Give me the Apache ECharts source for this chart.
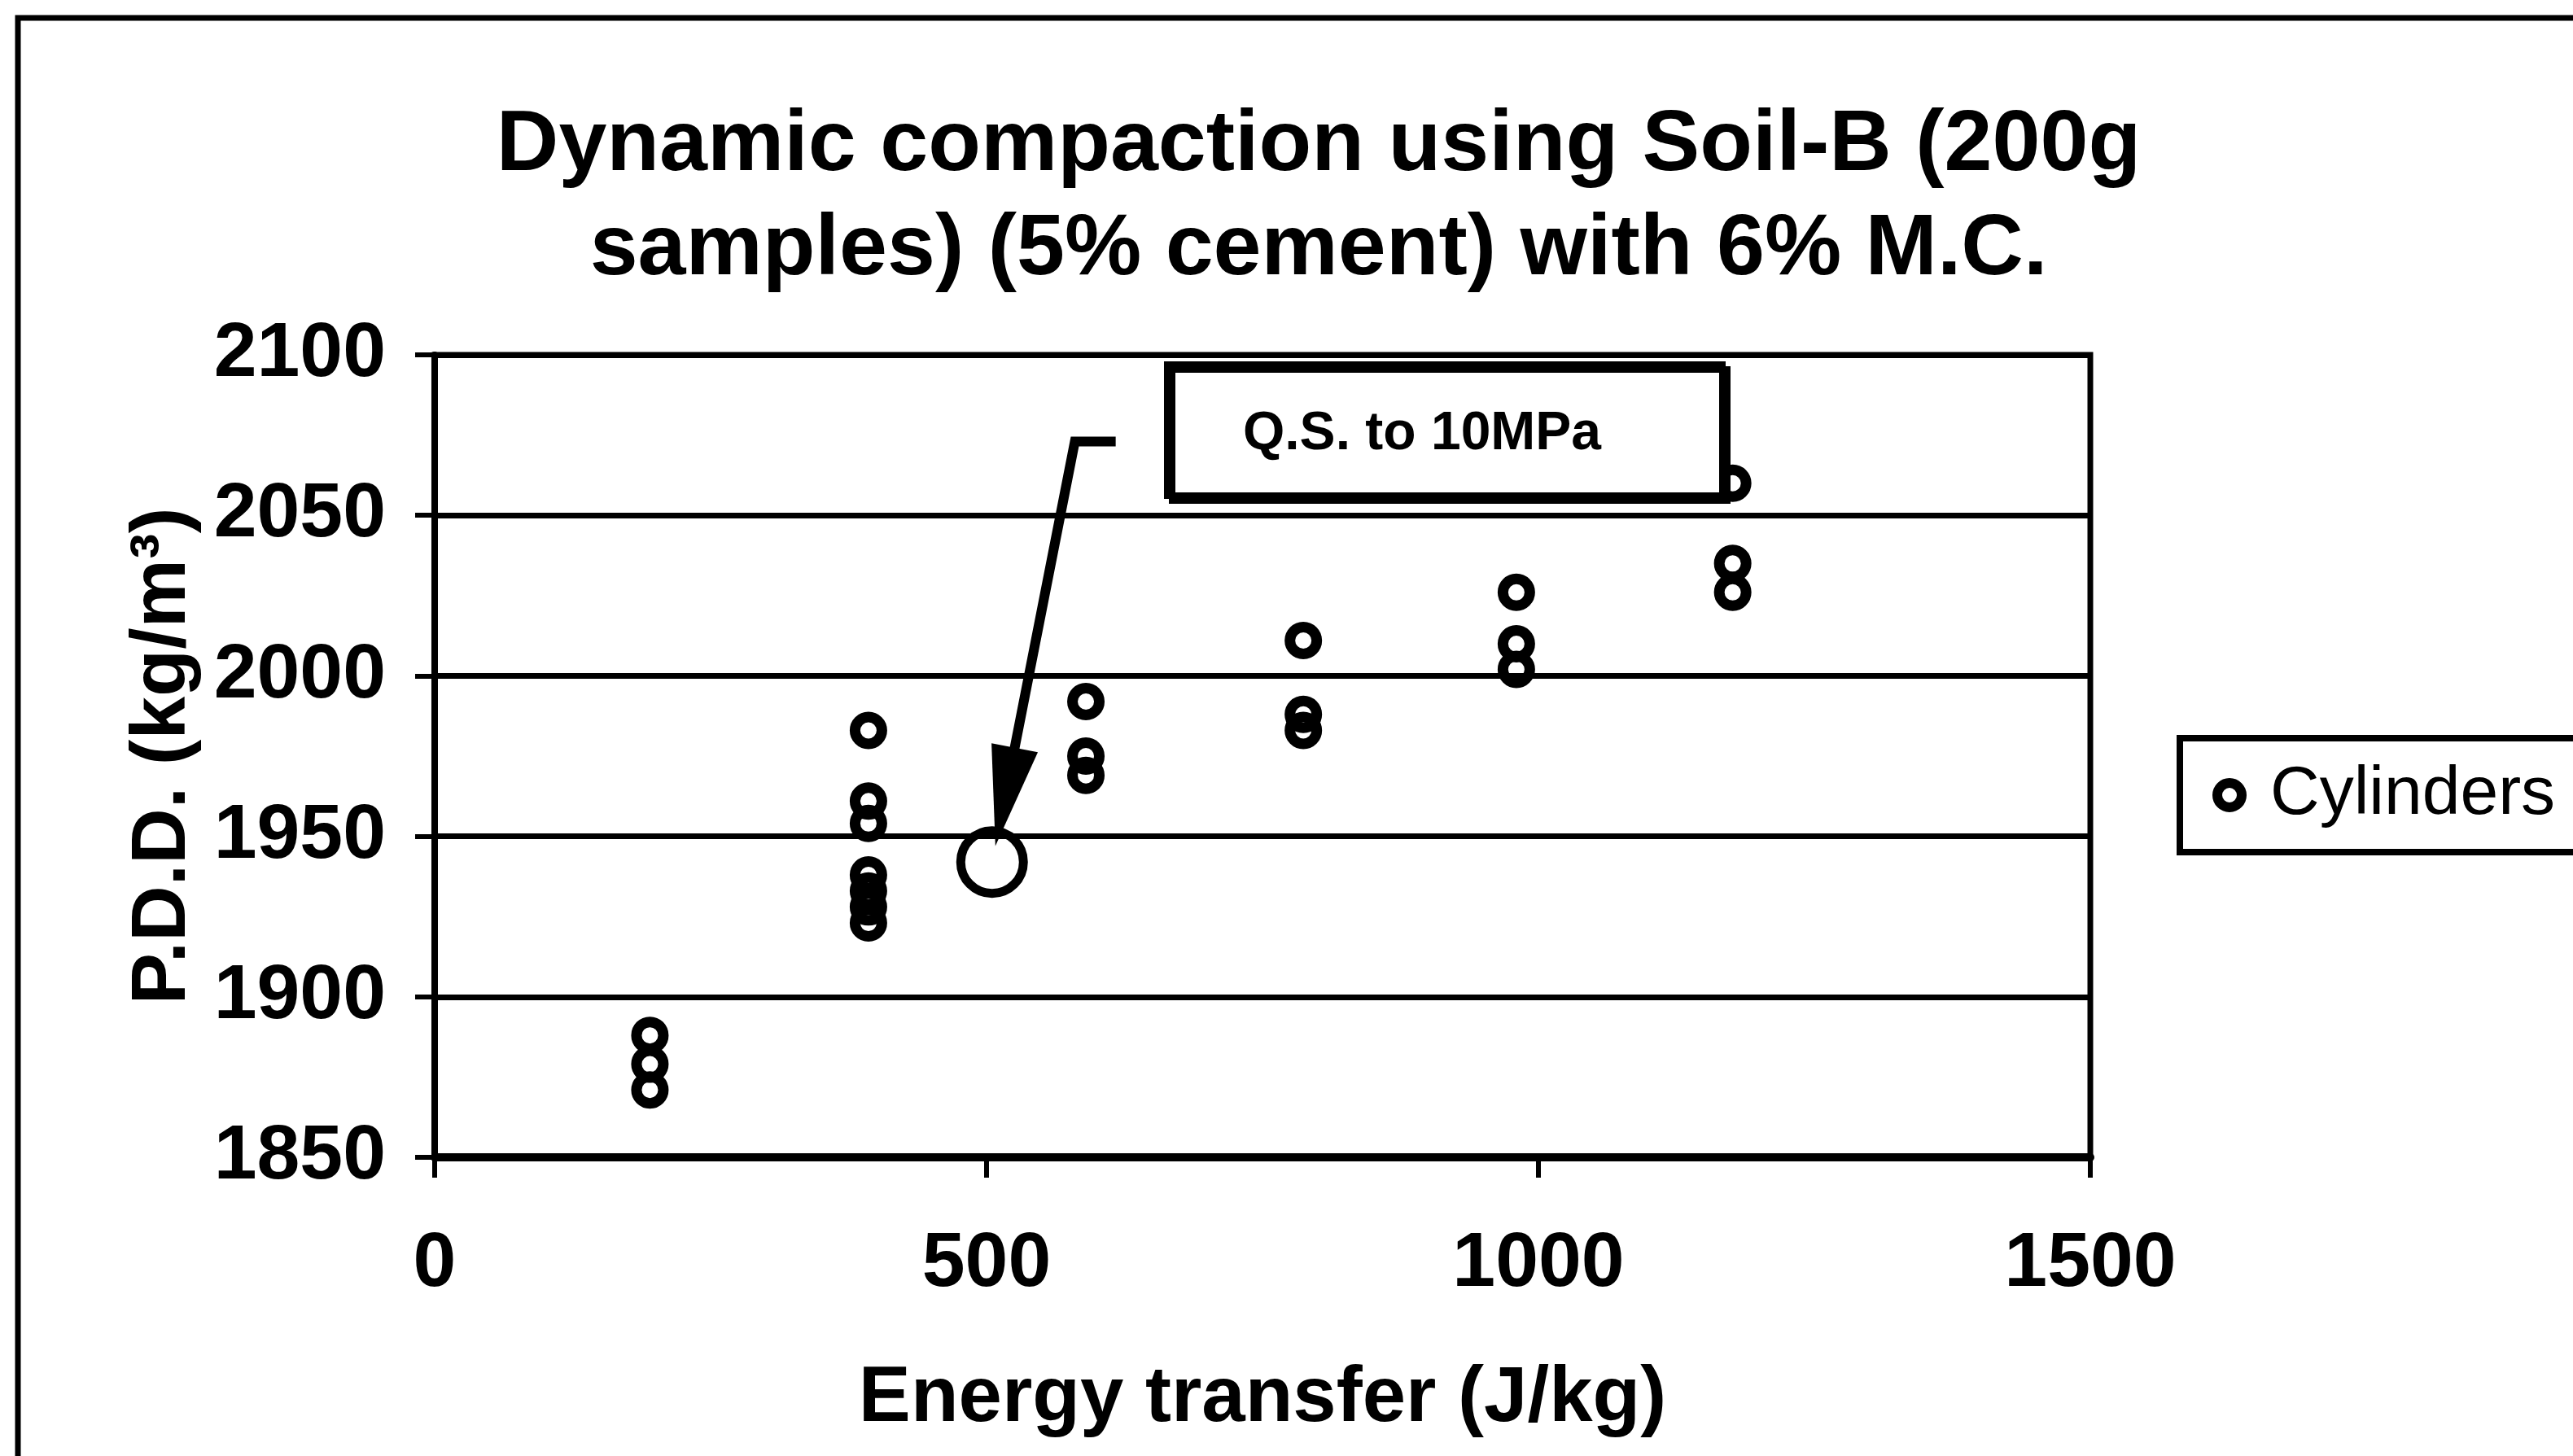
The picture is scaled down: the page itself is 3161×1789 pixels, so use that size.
<!DOCTYPE html>
<html><head><meta charset="utf-8">
<script src="https://cdn.jsdelivr.net/npm/echarts@6/dist/echarts.min.js"></script>
<style>html,body{margin:0;padding:0;background:#fff}#c{width:3161px;height:1789px}</style>
</head><body><div id="c"></div>
<script>
// ---- data ----
const energy = [195,195,195, 393,393,393,393,393,393,393, 590,590,590, 787,787,787, 980,980,980, 1176,1176,1176];
const pdd    = [1888,1879,1871, 1983,1961,1954,1938,1933,1928,1923, 1992,1975,1969, 2011,1988,1983, 2026,2010,2002, 2060,2035,2026];
const qsEnergy = [505];
const qsPdd    = [1942];
const xTicks = [0, 500, 1000, 1500];
const yTicks = [1850, 1900, 1950, 2000, 2050, 2100];
const titleLines = ['Dynamic compaction using Soil-B (200g', 'samples) (5% cement) with 6% M.C.'];
const seriesName = 'Cylinders';
const xName = 'Energy transfer (J/kg)';
const yName = 'P.D.D. (kg/m\u00B3)';
const noteText = 'Q.S. to 10MPa';
// arrow anchor points in data units: end of short horizontal stub, corner, arrow tip
const arrowPts = [[617, 2073], [580, 2073], [508, 1947]];

const FONT = '"Liberation Sans", Arial, sans-serif';
const chart = echarts.init(document.getElementById('c'), null, {renderer: 'canvas'});

const cylData = energy.map((e, i) => [e, pdd[i]]);
const qsData = qsEnergy.map((e, i) => [e, qsPdd[i]]);

chart.setOption({
  backgroundColor: '#fff',
  animation: false,
  title: {
    text: titleLines.join('\n'),
    left: 1615, top: 111, textAlign: 'center',
    textStyle: {fontFamily: FONT, fontWeight: 'bold', fontSize: 106, lineHeight: 128, color: '#000'}
  },
  grid: {left: 534, right: 593, top: 436, bottom: 367, show: true, borderColor: '#000', borderWidth: 7, backgroundColor: 'transparent'},
  xAxis: {
    type: 'value', min: xTicks[0], max: xTicks[xTicks.length - 1], interval: 500,
    name: xName, nameLocation: 'middle', nameGap: 250,
    nameTextStyle: {fontFamily: FONT, fontWeight: 'bold', fontSize: 96, color: '#000'},
    axisLine: {onZero: false, lineStyle: {color: '#000', width: 10}},
    axisTick: {show: true, length: 25, lineStyle: {color: '#000', width: 6}},
    axisLabel: {margin: 84, fontFamily: FONT, fontWeight: 'bold', fontSize: 95, color: '#000', formatter: v => String(v)},
    splitLine: {show: false}
  },
  yAxis: {
    type: 'value', min: yTicks[0], max: yTicks[yTicks.length - 1], interval: 50,
    name: yName, nameLocation: 'middle', nameGap: 286, nameRotate: 90,
    nameTextStyle: {fontFamily: FONT, fontWeight: 'bold', fontSize: 95, color: '#000'},
    axisLine: {lineStyle: {color: '#000', width: 8}},
    axisTick: {show: true, length: 24, lineStyle: {color: '#000', width: 6}},
    axisLabel: {margin: 60, fontFamily: FONT, fontWeight: 'bold', fontSize: 95, color: '#000', formatter: v => String(v)},
    splitLine: {show: true, lineStyle: {color: '#000', width: 7}}
  },
  legend: {
    data: [seriesName],
    left: 2678, top: 907,
    orient: 'vertical',
    padding: [28, 40, 28, 40],
    borderColor: '#000', borderWidth: 8,
    backgroundColor: '#fff',
    itemWidth: 30, itemHeight: 30,
    icon: 'circle',
    itemStyle: {color: 'rgba(0,0,0,0)', borderColor: '#000', borderWidth: 12},
    textStyle: {fontFamily: FONT, fontSize: 84, color: '#000', padding: [0, 0, 0, 30]}
  },
  series: [
    {
      name: seriesName, type: 'scatter', data: cylData,
      symbol: 'circle', symbolSize: 33,
      itemStyle: {color: 'rgba(0,0,0,0)', borderColor: '#000', borderWidth: 13, opacity: 1},
      z: 3
    },
    {
      name: 'Q.S.', type: 'scatter', data: qsData,
      symbol: 'circle', symbolSize: 77,
      itemStyle: {color: 'rgba(0,0,0,0)', borderColor: '#000', borderWidth: 11, opacity: 1},
      z: 3
    }
  ]
});

// ---- annotation: arrow and text box ----
const px = arrowPts.map(p => chart.convertToPixel({gridIndex: 0}, p));
const tip = px[2], corner = px[1];
const dx = tip[0] - corner[0], dy = tip[1] - corner[1];
const len = Math.sqrt(dx * dx + dy * dy);
const ux = dx / len, uy = dy / len;
const headLen = 123, headHalf = 29;
const bx = tip[0] - headLen * ux, by = tip[1] - headLen * uy;
const lineEnd = [tip[0] - (headLen - 10) * ux, tip[1] - (headLen - 10) * uy];

chart.setOption({
  graphic: [
    {type: 'rect', shape: {x: 22, y: 22, width: 3300, height: 2000}, style: {fill: 'none', stroke: '#000', lineWidth: 7}, z: 0, silent: true},
    {type: 'polyline', shape: {points: [px[0], px[1], lineEnd]}, style: {stroke: '#000', lineWidth: 12, fill: null, lineJoin: 'miter'}, z: 50},
    {type: 'polygon', shape: {points: [tip, [bx + headHalf * (-uy), by + headHalf * ux], [bx - headHalf * (-uy), by - headHalf * ux]]}, style: {fill: '#000'}, z: 50},
    {type: 'rect', shape: {x: 1434, y: 448, width: 682, height: 161}, style: {fill: '#fff', stroke: '#000', lineWidth: 8, shadowColor: '#000', shadowOffsetX: 6, shadowOffsetY: 6, shadowBlur: 0}, z: 60},
    {type: 'text', x: 1747, y: 534, style: {text: noteText, fill: '#000', font: 'bold 66px ' + FONT, textAlign: 'center', textVerticalAlign: 'middle', align: 'center', verticalAlign: 'middle'}, z: 61}
  ]
});
</script></body></html>
